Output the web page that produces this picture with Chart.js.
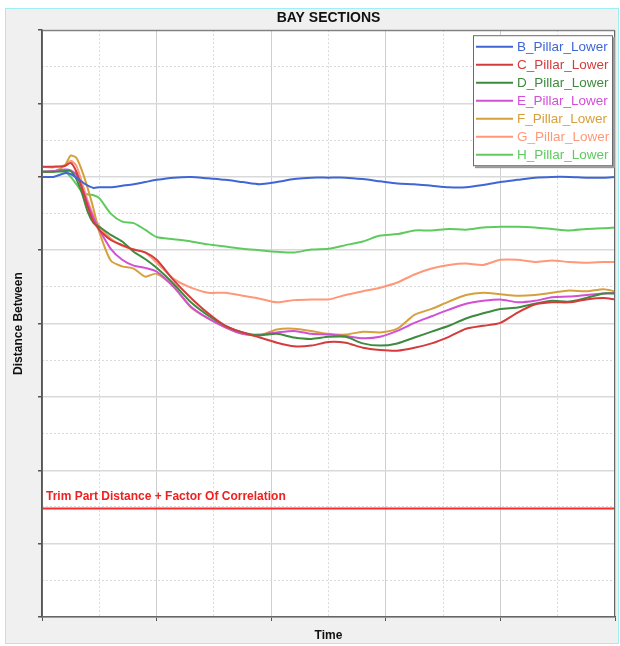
<!DOCTYPE html>
<html>
<head>
<meta charset="utf-8">
<script src="https://cdn.jsdelivr.net/npm/chart.js@4.4.1/dist/chart.umd.min.js"></script>
<style>
  html, body { margin: 0; padding: 0; background: #fff; }
  #panel { position: absolute; left: 5px; top: 8px; width: 612px; height: 634px; border: 1px solid #9eeef2; background: #f0f0f0; }
  #wrap { position: absolute; left: 0; top: 0; width: 620px; height: 646px; }
</style>
</head>
<body>
<div id="panel"></div>
<div id="wrap"><canvas id="chart" width="620" height="646"></canvas></div>
<script>
// time axis samples (finer at the start where the curves drop)
const time = [0, 0.1, 0.2, 0.25, 0.3, 0.35, 0.4, 0.45, 0.5, 0.6, 0.7, 0.8, 0.9, 1.0,
  1.15, 1.3, 1.45, 1.6, 1.75, 1.9, 2.05, 2.2, 2.35, 2.5, 2.65, 2.8, 2.95, 3.1, 3.25,
  3.4, 3.55, 3.7, 3.85, 4.0, 4.15, 4.3, 4.45, 4.6, 4.75, 4.9, 5.0];

const bPillar = [60.0, 60.0, 60.5, 60.4, 59.9, 59.3, 58.8, 58.5, 58.6, 58.6, 58.8, 59.0, 59.3, 59.6,
  59.9, 60.0, 59.8, 59.6, 59.3, 59.0, 59.3, 59.7, 59.9, 59.9, 59.9, 59.7, 59.4, 59.1, 59.0,
  58.8, 58.6, 58.6, 58.9, 59.3, 59.6, 59.9, 60.0, 60.0, 59.9, 59.9, 60.0];
const cPillar = [61.4, 61.4, 61.5, 61.9, 60.7, 58.4, 55.9, 53.9, 52.8, 51.4, 50.7, 50.1, 49.7, 48.7,
  45.9, 43.5, 41.4, 39.7, 38.8, 38.1, 37.4, 36.9, 37.0, 37.5, 37.4, 36.7, 36.4, 36.3, 36.7,
  37.3, 38.2, 39.3, 39.7, 40.1, 41.5, 42.6, 42.9, 42.9, 43.3, 43.5, 43.3];
const dPillar = [60.7, 60.7, 60.8, 60.8, 59.7, 57.7, 55.2, 53.7, 53.2, 52.1, 51.2, 49.8, 48.8, 47.6,
  45.4, 42.9, 41.1, 39.7, 38.8, 38.4, 38.6, 38.1, 37.9, 38.2, 38.2, 37.3, 37.0, 37.3, 38.1,
  38.9, 39.7, 40.7, 41.4, 42.0, 42.2, 42.7, 43.1, 43.0, 43.5, 44.1, 44.1];
const ePillar = [60.7, 60.8, 61.0, 60.9, 60.3, 58.5, 56.3, 54.4, 52.8, 50.2, 48.7, 47.9, 47.6, 47.1,
  45.0, 42.3, 40.7, 39.5, 38.6, 38.5, 38.8, 39.0, 38.6, 38.5, 38.3, 38.0, 38.2, 39.0, 40.1,
  41.0, 41.9, 42.7, 43.1, 43.3, 42.9, 43.1, 43.6, 43.7, 43.9, 44.1, 44.2];
const fPillar = [60.7, 60.7, 61.6, 62.9, 62.6, 60.8, 58.4, 55.6, 52.5, 48.6, 47.8, 47.5, 46.4, 46.8,
  45.0, 42.2, 40.7, 39.5, 38.6, 38.4, 39.2, 39.3, 39.0, 38.6, 38.5, 38.9, 38.8, 39.3, 41.2,
  42.0, 43.0, 43.9, 44.2, 44.0, 43.8, 43.9, 44.2, 44.5, 44.4, 44.7, 44.4];
const gPillar = [61.4, 61.3, 61.6, 62.2, 61.5, 59.2, 56.7, 54.7, 53.3, 51.6, 50.6, 50.1, 49.7, 48.3,
  46.1, 44.9, 44.2, 44.2, 43.8, 43.4, 42.9, 43.2, 43.3, 43.3, 43.9, 44.4, 44.9, 45.6, 46.7,
  47.5, 48.0, 48.2, 48.0, 48.7, 48.7, 48.4, 48.6, 48.4, 48.3, 48.4, 48.4];
const hPillar = [60.7, 60.7, 60.7, 60.0, 59.0, 58.0, 57.6, 57.5, 57.1, 55.0, 53.9, 53.7, 52.8, 51.8,
  51.5, 51.2, 50.8, 50.5, 50.2, 50.0, 49.8, 49.7, 50.1, 50.2, 50.7, 51.2, 52.0, 52.2, 52.7,
  52.7, 52.9, 52.8, 53.1, 53.2, 53.2, 53.1, 52.9, 52.7, 52.9, 53.0, 53.1];

const seriesNames = ["B_Pillar_Lower", "C_Pillar_Lower", "D_Pillar_Lower", "E_Pillar_Lower",
  "F_Pillar_Lower", "G_Pillar_Lower", "H_Pillar_Lower"];
const seriesValues = [bPillar, cPillar, dPillar, ePillar, fPillar, gPillar, hPillar];
const seriesColors = ["#3f66d4", "#d43c3c", "#3d8b3d", "#d24fd6", "#d6a03c", "#ff9878", "#5fcb5f"];

const trimLabel = "Trim Part Distance + Factor Of Correlation";
const trimLevel = 14.8;

const FONT = '"Liberation Sans", Arial, sans-serif';
Chart.defaults.font.family = FONT;

const datasets = seriesNames.map((name, i) => ({
  label: name,
  data: time.map((t, k) => ({ x: t, y: seriesValues[i][k] })),
  borderColor: seriesColors[i],
  borderWidth: 2,
  pointRadius: 0,
  tension: 0.25,
  xAxisID: "x",
  yAxisID: "y"
}));
datasets.push({
  label: trimLabel,
  noLegend: true,
  data: [{ x: time[0], y: trimLevel }, { x: time[time.length - 1], y: trimLevel }],
  borderColor: "#ff2b2b",
  borderWidth: 2,
  pointRadius: 0,
  xAxisID: "x",
  yAxisID: "y"
});

// white plot background, frame, legend box and the trim label
const decor = {
  id: "decor",
  beforeDraw(chart) {
    const { ctx, chartArea: a } = chart;
    ctx.save();
    ctx.fillStyle = "#fff";
    ctx.fillRect(a.left, a.top, a.right - a.left, a.bottom - a.top);
    ctx.restore();
  },
  afterDraw(chart) {
    const { ctx, chartArea: a } = chart;
    ctx.save();
    ctx.strokeStyle = "#666";
    ctx.lineWidth = 1;
    ctx.strokeRect(a.left + 0.5, a.top + 0.5, a.right - a.left - 1, a.bottom - a.top - 1);

    // trim label
    const yTrim = chart.scales.y.getPixelForValue(trimLevel);
    ctx.font = "bold 12px " + FONT;
    ctx.fillStyle = "#f02020";
    ctx.textBaseline = "middle";
    ctx.textAlign = "left";
    ctx.fillText(trimLabel, a.left + 4, yTrim - 11.5);

    // legend
    const items = chart.data.datasets.filter(d => !d.noLegend);
    const bx = a.right - 142, by = a.top + 5, bw = 140, bh = 131;
    ctx.fillStyle = "#999";
    ctx.fillRect(bx + 2, by + 2, bw, bh);
    ctx.fillStyle = "#fff";
    ctx.fillRect(bx, by, bw, bh);
    ctx.strokeStyle = "#6a6a6a";
    ctx.strokeRect(bx + 0.5, by + 0.5, bw - 1, bh - 1);
    ctx.font = "13.5px " + FONT;
    items.forEach((d, i) => {
      const y = by + 11.5 + i * 18;
      ctx.strokeStyle = d.borderColor;
      ctx.lineWidth = 2;
      ctx.beginPath();
      ctx.moveTo(bx + 3, y);
      ctx.lineTo(bx + 40, y);
      ctx.stroke();
      ctx.fillStyle = d.borderColor;
      ctx.fillText(d.label, bx + 44, y + 0.5);
    });
    ctx.restore();
  }
};

const minorColor = ctx => (ctx.tick && Math.abs(ctx.tick.value % 1) > 0.01) ? "#dadada" : "rgba(0,0,0,0)";
const minorColorY = ctx => (ctx.tick && ctx.tick.value % 10 !== 0) ? "#dadada" : "rgba(0,0,0,0)";

new Chart(document.getElementById("chart"), {
  type: "line",
  data: { datasets },
  options: {
    responsive: false,
    animation: false,
    devicePixelRatio: 1,
    layout: { padding: { left: 7.8, right: 5, top: 9.2, bottom: 1.8 } },
    plugins: {
      legend: { display: false },
      tooltip: { enabled: false },
      title: {
        display: true,
        text: "BAY SECTIONS",
        fullSize: false,
        color: "#111",
        font: { size: 14, weight: "bold" },
        padding: { top: 1, bottom: 3.2 }
      }
    },
    scales: {
      x: {
        type: "linear", position: "bottom", min: 0, max: 5,
        ticks: { display: false, stepSize: 1 },
        grid: { color: "#cfcfcf", lineWidth: 1, tickColor: "#555", tickLength: 4 },
        border: { color: "#555", width: 1.5 },
        title: { display: true, text: "Time", color: "#111", font: { size: 12, weight: "bold" }, padding: { top: 7.8, bottom: 1 } }
      },
      x2: {
        type: "linear", position: "bottom", min: 0, max: 5,
        ticks: { display: false, stepSize: 0.5 },
        grid: { color: minorColor, lineWidth: 1, drawTicks: false },
        border: { display: false, dash: [2, 2] }
      },
      y: {
        type: "linear", position: "left", min: 0, max: 80,
        ticks: { display: false, stepSize: 10 },
        grid: { color: "#d9d9d9", lineWidth: 1.5, tickColor: "#555", tickLength: 4 },
        border: { color: "#555", width: 1.5 },
        title: { display: true, text: "Distance Between", color: "#111", font: { size: 12, weight: "bold" }, padding: { top: 3.5, bottom: 12.3 } }
      },
      y2: {
        type: "linear", position: "left", min: 0, max: 80,
        ticks: { display: false, stepSize: 5 },
        grid: { color: minorColorY, lineWidth: 1, drawTicks: false },
        border: { display: false, dash: [2, 2] }
      }
    }
  },
  plugins: [decor]
});
</script>
</body>
</html>
